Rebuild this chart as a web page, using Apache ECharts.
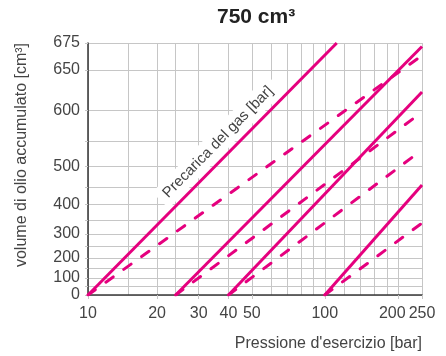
<!DOCTYPE html>
<html><head><meta charset="utf-8">
<script src="https://cdn.jsdelivr.net/npm/echarts@6/dist/echarts.min.js"></script>
<style>html,body{margin:0;padding:0;background:#fff}#c{width:446px;height:356px}</style>
</head><body><div id="c"></div>
<script>
// ---- data ----
const xGridValues = [10, 15, 20, 24, 30, 40, 50, 60, 70, 80, 90, 100, 120, 140, 160, 180, 200, 250];
const xTickLabels = [10, 20, 30, 40, 50, 100, 200, 250];
const yGridValues = [0, 50, 100, 150, 200, 250, 300, 350, 400, 450, 500, 550, 600, 650, 675];
const yTickLabels = [0, 100, 200, 300, 400, 500, 600, 650, 675];
const prechargeBar = [10, 24, 40, 100];
// solid (isothermal) lines: end points
const isoEndPressure = [112, 250, 250, 250];
const isoEndVolume   = [675, 672, 625, 455];
// dashed (adiabatic) lines: end points
const adiaEndPressure = [250, 250, 250, 250];
const adiaEndVolume   = [664, 598, 534, 340];

// ---- axis transforms ----
const V_REF = 780;
const ty = v => -Math.log(1 - v / V_REF);
const tx = p => Math.log10(p + 1);
const fromY = t => String(Math.round(V_REF * (1 - Math.exp(-t))));
const fromX = u => {
  const p = Math.round(Math.pow(10, u) - 1);
  return p === 200 ? '{l|200}' : String(p);
};

const PINK = '#e5007e';
const GRID = '#c6c6c6';
const TXT = '#444';
const FONT = '"Liberation Sans", Arial, sans-serif';

const series = [];
prechargeBar.forEach((p0, i) => {
  series.push({
    type: 'line', xAxisIndex: 0, yAxisIndex: 0, symbol: 'none', z: 4,
    data: [[tx(p0), ty(0)], [tx(isoEndPressure[i]), ty(isoEndVolume[i])]],
    lineStyle: { color: PINK, width: 3 }
  });
  series.push({
    type: 'line', xAxisIndex: 0, yAxisIndex: 0, symbol: 'none', z: 4,
    data: [[tx(p0), ty(0)], [tx(adiaEndPressure[i]), ty(adiaEndVolume[i])]],
    lineStyle: { color: PINK, width: 3, type: [9, 13], cap: 'round' }
  });
});

const xMin = tx(xGridValues[0]), xMax = tx(xGridValues[xGridValues.length - 1]) + 1e-9;
const yMin = ty(yGridValues[0]), yMax = ty(yGridValues[yGridValues.length - 1]) + 1e-9;

const chart = echarts.init(document.getElementById('c'), null, { renderer: 'canvas' });
chart.setOption({
  animation: false,
  textStyle: { fontFamily: FONT },
  title: {
    text: '750 cm³', left: 217, top: 7, padding: 0,
    textStyle: { fontSize: 21, fontWeight: 'bold', color: '#222', fontFamily: FONT }
  },
  grid: { left: 88, right: 24, top: 43, bottom: 61 },
  xAxis: [
    {
      type: 'value', min: xMin, max: xMax, position: 'bottom',
      axisLine: { show: false },
      axisTick: { show: false, customValues: xGridValues.map(tx) },
      axisLabel: { show: false },
      splitLine: { show: true, customValues: xGridValues.map(tx), lineStyle: { color: GRID, width: 1 } }
    },
    {
      type: 'value', min: xMin, max: xMax, position: 'bottom',
      axisLine: { show: true, onZero: false, lineStyle: { color: '#3a3a3a', width: 1.5 } },
      axisTick: { show: true, length: 4, customValues: xTickLabels.map(tx), lineStyle: { color: GRID } },
      axisLabel: {
        customValues: xTickLabels.map(tx), formatter: fromX, margin: 11, fontSize: 16, color: TXT, fontFamily: FONT,
        showMaxLabel: true, showMinLabel: true, hideOverlap: false,
        rich: { l: { fontSize: 16, color: TXT, fontFamily: FONT, padding: [0, 12, 0, 0] } }
      },
      splitLine: { show: false },
      name: "Pressione d'esercizio [bar]", nameLocation: 'end', nameGap: 0,
      nameTextStyle: { align: 'right', verticalAlign: 'top', padding: [41, 0, 0, 0], fontSize: 16, color: TXT, fontFamily: FONT }
    }
  ],
  yAxis: {
    type: 'value', min: yMin, max: yMax,
    axisLine: { show: true, onZero: false, lineStyle: { color: '#333', width: 1.5 } },
    axisTick: { show: true, length: 3, customValues: yGridValues.map(ty), lineStyle: { color: GRID } },
    axisLabel: { customValues: yTickLabels.map(ty), formatter: fromY, margin: 8, fontSize: 16, color: TXT, fontFamily: FONT,
      showMaxLabel: true, showMinLabel: true, hideOverlap: false },
    splitLine: { show: true, customValues: yGridValues.map(ty), lineStyle: { color: GRID, width: 1 } },
    name: 'volume di olio accumulato [cm³]', nameLocation: 'middle', nameGap: 58,
    nameTextStyle: { fontSize: 16, color: TXT, fontFamily: FONT, padding: [0, 0, 0, 28] }
  },
  graphic: [{
    type: 'text', x: 218, y: 142, rotation: Math.atan(1.0165), z: 3,
    style: {
      text: 'Precarica del gas [bar]', fontSize: 15, fill: TXT, fontFamily: FONT,
      align: 'center', verticalAlign: 'middle',
      backgroundColor: '#fff', padding: [4, 7], borderRadius: 5
    }
  }],
  series: series
});
</script></body></html>
